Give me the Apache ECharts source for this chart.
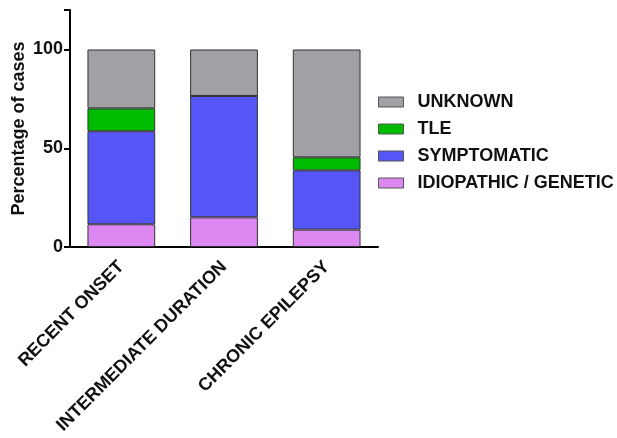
<!DOCTYPE html>
<html>
<head>
<meta charset="utf-8">
<script src="https://cdn.jsdelivr.net/npm/echarts@6/dist/echarts.min.js"></script>
<style>html,body{margin:0;padding:0;background:#fff}#c{width:617px;height:438px}</style>
</head>
<body>
<div id="c"></div>
<script>
var categories = ['RECENT ONSET', 'INTERMEDIATE DURATION', 'CHRONIC EPILEPSY'];
var idiopathic = [11.5, 15.0, 8.8];
var symptomatic = [47.1, 61.5, 30.0];
var tle = [11.6, 0, 6.6];
var unknown = [29.8, 23.5, 54.6];
var yTicks = [0, 50, 100];

var chart = echarts.init(document.getElementById('c'), null, {renderer: 'canvas'});
var font = 'Liberation Sans, Arial, sans-serif';
function s(name, data, color) {
  return {
    name: name, type: 'bar', stack: 'a', data: data, barWidth: '66%',
    itemStyle: {color: color, borderColor: '#333', borderWidth: 1}
  };
}
chart.setOption({
  animation: false,
  grid: {left: 70, right: 239, top: 10, bottom: 191, containLabel: false},
  legend: {
    orient: 'vertical', left: 373, top: 88,
    icon: 'rect',
    itemWidth: 25, itemHeight: 10, itemGap: 9,
    data: ['UNKNOWN', 'TLE', 'SYMPTOMATIC', 'IDIOPATHIC / GENETIC'],
    textStyle: {fontFamily: font, fontWeight: 'bold', fontSize: 18, color: '#111', padding: [0, 0, 0, 9]},
    itemStyle: {borderColor: '#555', borderWidth: 1}
  },
  xAxis: {
    type: 'category', data: categories,
    axisLine: {lineStyle: {color: '#000', width: 2}},
    axisTick: {alignWithLabel: true, length: 6, lineStyle: {color: '#000', width: 2}},
    axisLabel: {rotate: 45, margin: 17, fontFamily: font, fontWeight: 'bold', fontSize: 18, color: '#111', interval: 0}
  },
  yAxis: {
    type: 'value', min: 0, max: 120, interval: 50,
    name: 'Percentage of cases', nameLocation: 'middle', nameGap: 42,
    nameTextStyle: {fontFamily: font, fontWeight: 'bold', fontSize: 18, color: '#111'},
    splitLine: {show: false},
    axisLine: {show: true, lineStyle: {color: '#000', width: 2}},
    axisTick: {show: true, length: 6, lineStyle: {color: '#000', width: 2}},
    axisLabel: {
      fontFamily: font, fontWeight: 'bold', fontSize: 18, color: '#111', margin: 7,
      formatter: function (v) { return yTicks.indexOf(v) >= 0 ? v : ''; }
    }
  },
  series: [
    s('IDIOPATHIC / GENETIC', idiopathic, '#dd88f2'),
    s('SYMPTOMATIC', symptomatic, '#5555f8'),
    s('TLE', tle, '#00bb00'),
    s('UNKNOWN', unknown, '#a0a0a5')
  ]
});
</script>
</body>
</html>
